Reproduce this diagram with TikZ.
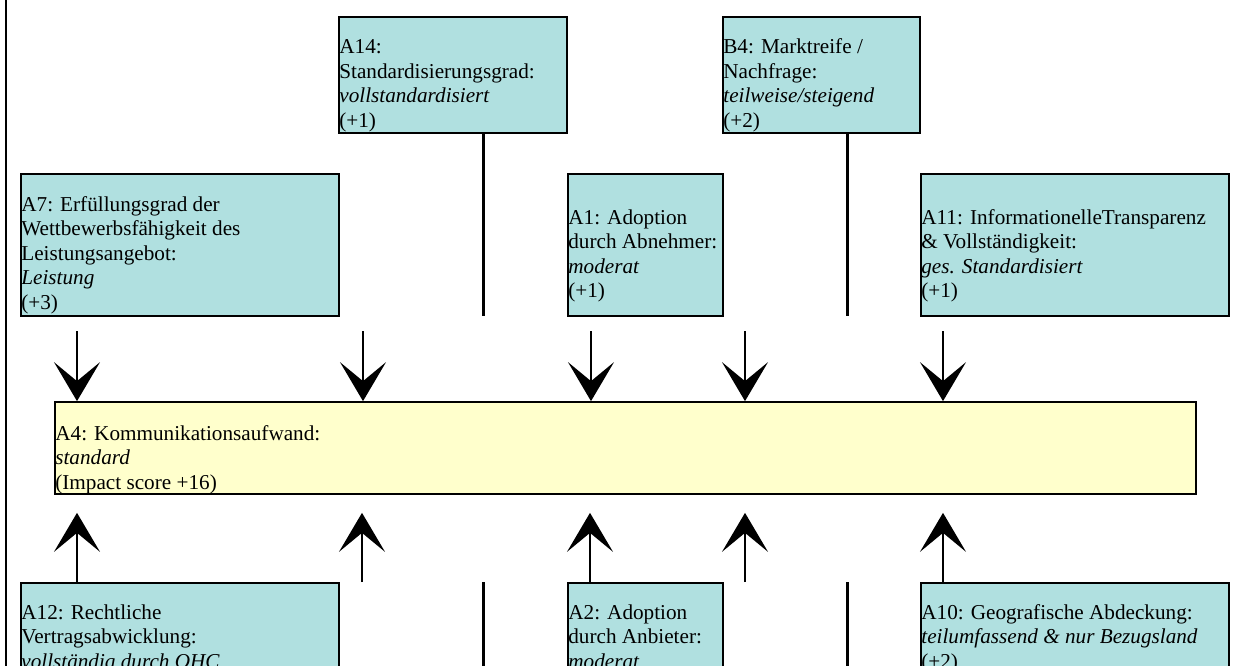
\documentclass[tikz,border=0pt]{standalone}
\usepackage{fontspec}
\setmainfont{Liberation Serif}
\usetikzlibrary{arrows.meta}
\definecolor{boxcyan}{RGB}{176,224,224}
\definecolor{boxyellow}{RGB}{255,255,204}

\begin{document}
\begin{tikzpicture}[x=1pt,y=-1pt,
  factor/.style={draw=black, fill=boxcyan, line width=1.7pt, rectangle, inner sep=0pt},
  target/.style={factor, fill=boxyellow},
  % anchored on the baseline of the last line of text
  boxtext/.style={anchor=base west, inner sep=0pt, align=left,
    font=\fontsize{21.2}{24.5}\selectfont},
  link/.style={line width=3pt},
  influence/.style={line width=2pt, -{Stealth[length=39pt, width=46pt, inset=19pt]}},
  border/.style={line width=2pt}]

\useasboundingbox (0,0) rectangle (1234,666);
\clip (0,0) rectangle (1234,666);

% frame line on the left
\draw[border] (6,-5) -- (6,700);

% top row
\node[factor, minimum width=228pt, minimum height=116pt] (a14) at (453,75) {};
\node[factor, minimum width=197pt, minimum height=116pt] (b4) at (821.5,75) {};
\node[boxtext] (a14t) at ([xshift=1pt]a14.west |- 0,127.5)
  {A14:\\Standardisierungsgrad:\\\textit{vollstandardisiert}\\(+1)};
\node[boxtext] (b4t) at ([xshift=1pt]b4.west |- 0,127.5)
  {B4: Marktreife /\\Nachfrage:\\\textit{teilweise/steigend}\\(+2)};

% middle row
\node[factor, minimum width=318pt, minimum height=142pt] (a7) at (180,245) {};
\node[factor, minimum width=155pt, minimum height=142pt] (a1) at (645.5,245) {};
\node[factor, minimum width=308pt, minimum height=142pt] (a11) at (1075,245) {};
\node[boxtext] (a7t) at ([xshift=1pt]a7.west |- 0,309)
  {A7: Erfüllungsgrad der\\Wettbewerbsfähigkeit des\\Leistungsangebot:\\\textit{Leistung}\\(+3)};
\node[boxtext] (a1t) at ([xshift=1pt]a1.west |- 0,297.5)
  {A1: Adoption\\durch Abnehmer:\\\textit{moderat}\\(+1)};
\node[boxtext] (a11t) at ([xshift=1pt]a11.west |- 0,297.5)
  {A11: InformationelleTransparenz\\\& Vollständigkeit:\\\textit{ges. Standardisiert}\\(+1)};

% central factor
\node[target, minimum width=1141pt, minimum height=92pt] (a4) at (625.5,448) {};
\node[boxtext] (a4t) at ([xshift=1pt]a4.west |- 0,489)
  {A4: Kommunikationsaufwand:\\\textit{standard}\\(Impact score +16)};

% bottom row
\node[factor, minimum width=318pt, minimum height=200pt] (a12) at (180,683) {};
\node[factor, minimum width=155pt, minimum height=200pt] (a2) at (645.5,683) {};
\node[factor, minimum width=308pt, minimum height=200pt] (a10) at (1075,683) {};
\node[boxtext] (a12t) at ([xshift=1pt]a12.west |- 0,668)
  {A12: Rechtliche\\Vertragsabwicklung:\\\textit{vollständig durch OHC}};
\node[boxtext] (a2t) at ([xshift=1pt]a2.west |- 0,668)
  {A2: Adoption\\durch Anbieter:\\\textit{moderat}};
\node[boxtext] (a10t) at ([xshift=1pt]a10.west |- 0,668)
  {A10: Geografische Abdeckung:\\\textit{teilumfassend \& nur Bezugsland}\\(+2)};

% stems below the top row and above the bottom row
\coordinate (s1) at (483,316);
\coordinate (s2) at (847,316);
\coordinate (s3) at (483,700);
\coordinate (s4) at (847,700);
\draw[link] (s1 |- a14.south) -- (s1);
\draw[link] (s2 |- b4.south) -- (s2);
\draw[link] (s3 |- a12.north) -- (s3);
\draw[link] (s4 |- a12.north) -- (s4);

% arrows into the central factor from above
\foreach \i/\x in {1/77, 2/363, 3/591, 4/745, 5/943} {
  \coordinate (d\i) at (\x,331);
  \draw[influence] (d\i) -- (d\i |- a4.north);
}

% arrows into the central factor from below
\foreach \i/\x in {1/77, 2/362, 3/590, 4/745, 5/943} {
  \coordinate (u\i) at (\x,582);
  \draw[influence, shorten >=18pt] (u\i) -- (u\i |- a4.south);
}
\end{tikzpicture}
\end{document}
